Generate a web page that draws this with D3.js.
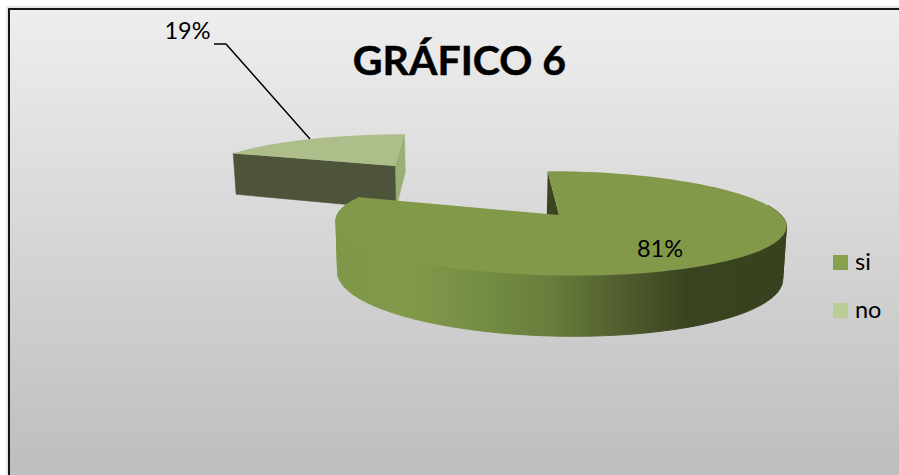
<!DOCTYPE html>
<html><head><meta charset="utf-8">
<style>html,body{margin:0;padding:0;background:#fff}svg{display:block}text{font-family:Lato,"Open Sans",sans-serif;fill:#000}</style>
<script src="https://cdnjs.cloudflare.com/ajax/libs/d3/7.8.5/d3.min.js"></script>
</head><body><svg id="c" width="899" height="475"></svg>
<script>
const categories = ["si", "no"];
const seriesValues = [81, 19];
const dataLabels = ["81%", "19%"];
const chartTitle = "GRÁFICO 6";
const topColors = ["#82994a", "#adbe8a"];
const legendColors = ["#86a04d", "#b9cd94"];

const svg = d3.select("#c");
const defs = svg.append("defs");
const bg = defs.append("linearGradient").attr("id","bg").attr("x1",0).attr("y1",0).attr("x2",0).attr("y2",1);
bg.append("stop").attr("offset",0).attr("stop-color","#eeeeee");
bg.append("stop").attr("offset",1).attr("stop-color","#bcbcbc");
const wall = defs.append("linearGradient").attr("id","wall").attr("gradientUnits","userSpaceOnUse").attr("x1",337).attr("x2",787).attr("y1",0).attr("y2",0);
[[0,"#7f9748"],[0.16,"#82994a"],[0.3,"#778f45"],[0.48,"#677d3b"],[0.62,"#535f30"],[0.78,"#39431f"],[1,"#39421f"]].forEach(s=>wall.append("stop").attr("offset",s[0]).attr("stop-color",s[1]));

svg.append("rect").attr("x",8.5).attr("y",8.5).attr("width",900).attr("height",480).attr("fill","none").attr("stroke","#e6e6e6").attr("stroke-width",5);
svg.append("rect").attr("x",9).attr("y",9).attr("width",900).attr("height",480).attr("fill","url(#bg)").attr("stroke","#000").attr("stroke-width",1.8);

// perspective projection of the pie's ground plane
const apex=[559,215], vp=[477,-103], persp=0.16, radius=222, depth=51, lean=0.012, xMid=477;
const explode=1.425;
function project(X,Y,drop){
  const w=1+persp*Y;
  const x=(apex[0]+radius*X+Y*persp*vp[0])/w, y=(apex[1]+Y*persp*vp[1])/w;
  return drop ? [x-(x-xMid)*lean, y+depth/w] : [x,y];
}
const arcs=d3.pie().sort(null).value(d=>d)(seriesValues);
const line=d3.line();
const rim=(a,o,drop)=>project(o[0]+Math.sin(a),o[1]+Math.cos(a),drop);
const sample=(a0,a1)=>d3.range(0,121).map(i=>a0+(a1-a0)*i/120);
const band=(a0,a1,o)=>{const as=sample(a0,a1);return line([...as.map(a=>rim(a,o,false)),...as.slice().reverse().map(a=>rim(a,o,true))])+"Z";};

// exploded "no" slice
const sNo=arcs[1], midNo=(sNo.startAngle+sNo.endAngle)/2;
const oNo=[Math.sin(midNo)*explode,Math.cos(midNo)*explode];
const oSi=[0,0];
const gNo=svg.append("g").attr("transform","translate(-1.5,1.5)");
gNo.append("path").attr("fill","#9bae78").attr("stroke","#9bae78").attr("stroke-width",0.6).attr("d",line([rim(sNo.endAngle,oNo,false),project(oNo[0],oNo[1],false),project(oNo[0],oNo[1],true),rim(sNo.endAngle,oNo,true)])+"Z");
gNo.append("path").attr("fill","#4d543a").attr("stroke","#4d543a").attr("stroke-width",0.6).attr("d",line([rim(sNo.startAngle,oNo,false),project(oNo[0],oNo[1],false),project(oNo[0],oNo[1],true),rim(sNo.startAngle,oNo,true)])+"Z");
gNo.append("path").attr("fill",topColors[1]).attr("d",line([project(oNo[0],oNo[1],false),...sample(sNo.startAngle,sNo.endAngle).map(a=>rim(a,oNo,false))])+"Z");

// main "si" slice
const g=svg.append("g");
const sSi=arcs[0];
g.append("path").attr("fill","#3b4521").attr("d",line([rim(sSi.startAngle,oSi,false),project(0,0,false),project(0,0,true),rim(sSi.startAngle,oSi,true)])+"Z");
const allAngles=sample(sSi.startAngle,sSi.endAngle);
const aRight=d3.greatest(allAngles,a=>rim(a,oSi,false)[0]);
const aLeft=d3.least(allAngles,a=>rim(a,oSi,false)[0]);
[[aRight,aLeft],[aLeft,sSi.endAngle],[aRight-0.4,aRight]].forEach(r=>{
  g.append("path").attr("fill","url(#wall)").attr("stroke","url(#wall)").attr("stroke-width",1).attr("d",band(r[0],r[1],oSi));
});
g.append("path").attr("fill",topColors[0]).attr("d",line([project(0,0,false),...allAngles.map(a=>rim(a,oSi,false))])+"Z");

// labels
svg.append("text").attr("x",459.5).attr("y",74.5).attr("text-anchor","middle").attr("font-size",41).attr("font-weight",700).attr("stroke","#000").attr("stroke-width",0.5).text(chartTitle);
svg.append("text").attr("x",660).attr("y",257).attr("text-anchor","middle").attr("font-size",23.5).text(dataLabels[0]);
svg.append("text").attr("x",187.5).attr("y",39).attr("text-anchor","middle").attr("font-size",23.5).text(dataLabels[1]);
svg.append("path").attr("fill","none").attr("stroke","#000").attr("stroke-width",1.5).attr("d",line([[214,44],[226,44],[310,139]]));

// legend
const legY=d3.scalePoint().domain(categories).range([262.5,310.5]);
categories.forEach((c,i)=>{
  svg.append("rect").attr("x",833).attr("y",legY(c)-7.5).attr("width",15).attr("height",15).attr("fill",legendColors[i]);
  svg.append("text").attr("x",855).attr("y",legY(c)+7.5).attr("font-size",23.5).text(c);
});
</script></body></html>
